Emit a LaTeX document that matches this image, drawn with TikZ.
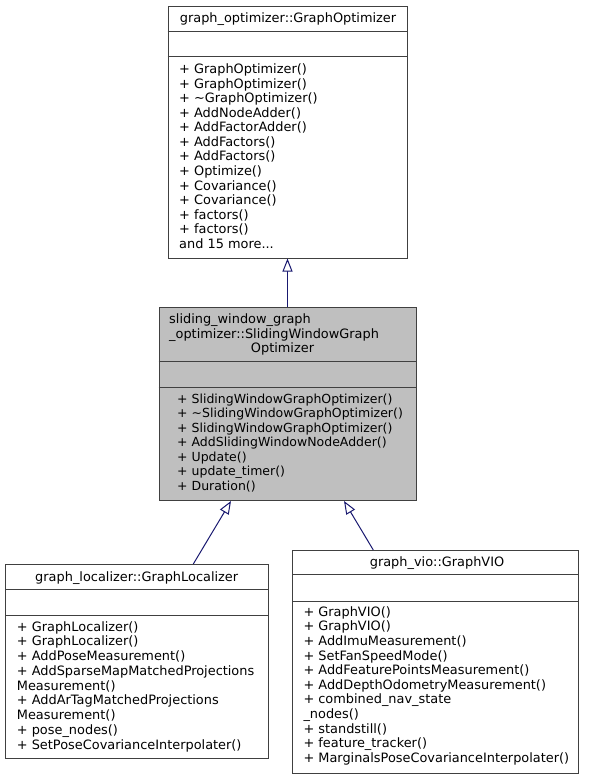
\documentclass[tikz,border=0pt]{standalone}
\usepackage{fontspec}
\setmainfont{DejaVu Sans}
\usetikzlibrary{arrows.meta}
\definecolor{edgeblue}{HTML}{191970}
\definecolor{bordgray}{HTML}{404040}
\definecolor{fillgray}{HTML}{BFBFBF}
\tikzset{
  cls/.style={draw=bordgray, line width=1pt, inner sep=0pt, anchor=north west},
  sepline/.style={draw=bordgray, line width=1pt},
  txt/.style={inner sep=0pt, font=\fontsize{12.9}{14.6}\selectfont, anchor=base west},
  ntxt/.style={inner sep=0pt, font=\fontsize{12.5}{14.6}\selectfont, anchor=base west},
  ctxt/.style={inner sep=0pt, font=\fontsize{12.9}{14.6}\selectfont, anchor=base},
  inh/.style={draw=edgeblue, line width=1pt, -{Triangle[open, length=13pt, width=10pt, fill=white]}}
}
\begin{document}
\begin{tikzpicture}[x=1pt,y=-1pt]
\useasboundingbox (0,0) rectangle (589,779);

% ---------- top box ----------
\node[cls, minimum width=239pt, minimum height=252pt] (go) at (167.5,5.5) {};
\draw[sepline] (go.west |- 0,31.5) -- (go.east |- 0,31.5);
\draw[sepline] (go.west |- 0,56.5) -- (go.east |- 0,56.5);
\node[ctxt] (go-t) at (288,22) {graph\_optimizer::GraphOptimizer};
\foreach \t [count=\i] in {+ GraphOptimizer(), + GraphOptimizer(), + \textasciitilde GraphOptimizer(), + AddNodeAdder(), + AddFactorAdder(), + AddFactors(), + AddFactors(), + Optimize(), + Covariance(), + Covariance(), + factors(), + factors()}
  \node[txt] (go-m\i) at (179,{73.5+(\i-1)*14.58}) {\t};
\node[txt] (go-more) at (179,{73.5+12*14.58}) {and 15 more...};

% ---------- middle box ----------
\node[cls, fill=fillgray, minimum width=257.5pt, minimum height=193pt] (sw) at (158.5,307) {};
\draw[sepline] (sw.west |- 0,361.5) -- (sw.east |- 0,361.5);
\draw[sepline] (sw.west |- 0,387.5) -- (sw.east |- 0,387.5);
\node[txt] (sw-t1) at (169,323.4) {sliding\_window\_graph};
\node[txt] (sw-t2) at (169,338.1) {\_optimizer::SlidingWindowGraph};
\node[ctxt] (sw-t3) at (282.5,352.9) {Optimizer};
\foreach \t [count=\i] in {+ SlidingWindowGraphOptimizer(), + \textasciitilde SlidingWindowGraphOptimizer(), + SlidingWindowGraphOptimizer(), + AddSlidingWindowNodeAdder(), + Update(), + update\_timer(), + Duration()}
  \node[ntxt] (sw-m\i) at (177,{403.4+(\i-1)*14.5}) {\t};

% ---------- left box ----------
\node[cls, minimum width=262.5pt, minimum height=193.5pt] (loc) at (5,564) {};
\draw[sepline] (loc.west |- 0,589.3) -- (loc.east |- 0,589.3);
\draw[sepline] (loc.west |- 0,615.5) -- (loc.east |- 0,615.5);
\node[ctxt] (loc-t) at (136.7,581) {graph\_localizer::GraphLocalizer};
\foreach \t [count=\i] in {+ GraphLocalizer(), + GraphLocalizer(), + AddPoseMeasurement(), + AddSparseMapMatchedProjections, Measurement(), + AddArTagMatchedProjections, Measurement(), + pose\_nodes(), + SetPoseCovarianceInterpolater()}
  \node[txt] (loc-m\i) at (16.7,{631.2+(\i-1)*14.75}) {\t};

% ---------- right box ----------
\node[cls, minimum width=285.4pt, minimum height=223.3pt] (vio) at (292.3,550) {};
\draw[sepline] (vio.west |- 0,574.5) -- (vio.east |- 0,574.5);
\draw[sepline] (vio.west |- 0,601) -- (vio.east |- 0,601);
\node[ctxt] (vio-t) at (437,566.5) {graph\_vio::GraphVIO};
\foreach \t [count=\i] in {+ GraphVIO(), + GraphVIO(), + AddImuMeasurement(), + SetFanSpeedMode(), + AddFeaturePointsMeasurement(), + AddDepthOdometryMeasurement(), + combined\_nav\_state, \_nodes(), + standstill(), + feature\_tracker(), + MarginalsPoseCovarianceInterpolater()}
  \node[txt] (vio-m\i) at (303.3,{616.2+(\i-1)*14.63}) {\t};

% ---------- inheritance arrows ----------
\draw[inh] (sw.north -| go.south) -- (go.south);
\draw[inh] ([xshift=188.3pt]loc.north west) -- ([xshift=72.5pt]sw.south west);
\draw[inh] ([xshift=81pt]vio.north west) -- ([xshift=185.5pt]sw.south west);
\end{tikzpicture}
\end{document}
